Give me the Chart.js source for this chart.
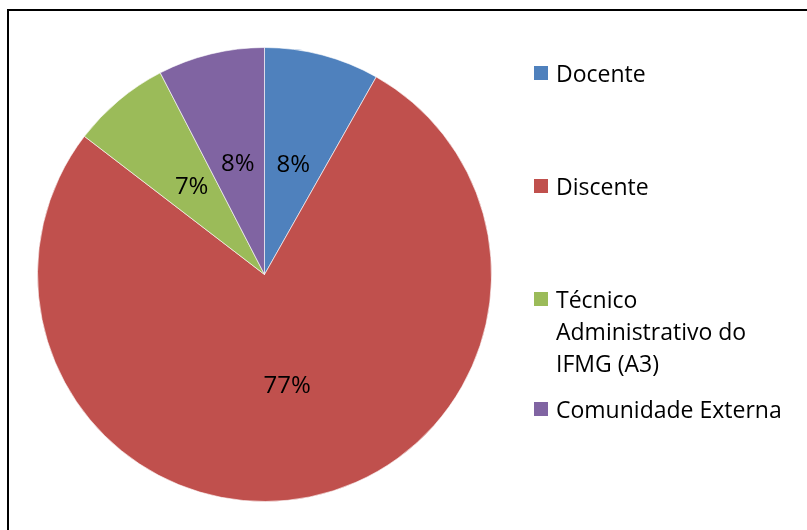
<!DOCTYPE html>
<html>
<head>
<meta charset="utf-8">
<script src="https://cdn.jsdelivr.net/npm/chart.js@4"></script>
<style>
  html, body { margin: 0; padding: 0; background: #fff; overflow: hidden; }
  #wrap { position: relative; width: 807px; height: 530px; }
  #frame { position: absolute; left: 7px; top: 9px; width: 820px; height: 540px; border: 2px solid #000; box-sizing: border-box; }
  #grafico { position: absolute; left: 0; top: 0; }
  .leg { position: absolute; left: 534px; font-family: "Open Sans", sans-serif; font-size: 23px; line-height: 32px; color: #000; }
  .leg .sq { position: absolute; left: 0; top: 9px; width: 14px; height: 14px; }
  .leg .tx { position: absolute; left: 22px; top: 0; width: 260px; white-space: nowrap; }
</style>
</head>
<body>
<div id="wrap">
  <div id="frame"></div>
  <canvas id="grafico" width="807" height="530"></canvas>
</div>
<script>
// categorias e valores (percentuais)
var categorias = ["Docente", "Discente", "Técnico Administrativo do IFMG (A3)", "Comunidade Externa"];
var linhasLegenda = [["Docente"], ["Discente"], ["Técnico", "Administrativo do", "IFMG (A3)"], ["Comunidade Externa"]];
var valores = [8.2, 77.3, 7.0, 7.6];
var cores = ['#4F81BD', '#C0504D', '#9BBB59', '#8064A2'];

// topo de cada item da legenda (layout)
var topoLegenda = [57, 170, 283, 393];

var total = valores.reduce(function (a, b) { return a + b; }, 0);

// rotulos de porcentagem no meio de cada fatia
var rotulos = {
  id: 'rotulos',
  afterDatasetsDraw: function (chart) {
    var ctx = chart.ctx;
    var meta = chart.getDatasetMeta(0);
    ctx.save();
    ctx.font = '24px "Open Sans", sans-serif';
    ctx.fillStyle = '#000';
    ctx.textAlign = 'center';
    ctx.textBaseline = 'middle';
    meta.data.forEach(function (arc, i) {
      var p = arc.getCenterPoint();
      var pct = Math.round(valores[i] / total * 100) + '%';
      ctx.fillText(pct, p.x, p.y);
    });
    ctx.restore();
  }
};

var ctx = document.getElementById('grafico').getContext('2d');
var chart = new Chart(ctx, {
  type: 'pie',
  data: {
    labels: categorias,
    datasets: [{
      data: valores,
      backgroundColor: cores,
      borderColor: 'rgba(255,255,255,0.6)',
      borderWidth: 1
    }]
  },
  options: {
    responsive: false,
    animation: false,
    layout: { padding: { left: 37, top: 47, right: 315, bottom: 28 } },
    plugins: {
      legend: { display: false },
      tooltip: { enabled: false }
    }
  },
  plugins: [rotulos]
});

// legenda montada a partir das categorias
var wrap = document.getElementById('wrap');
linhasLegenda.forEach(function (linhas, i) {
  var item = document.createElement('div');
  item.className = 'leg';
  item.style.top = topoLegenda[i] + 'px';
  var sq = document.createElement('div');
  sq.className = 'sq';
  sq.style.background = cores[i];
  var tx = document.createElement('div');
  tx.className = 'tx';
  tx.innerHTML = linhas.join('<br>');
  item.appendChild(sq);
  item.appendChild(tx);
  wrap.appendChild(item);
});
</script>
</body>
</html>
